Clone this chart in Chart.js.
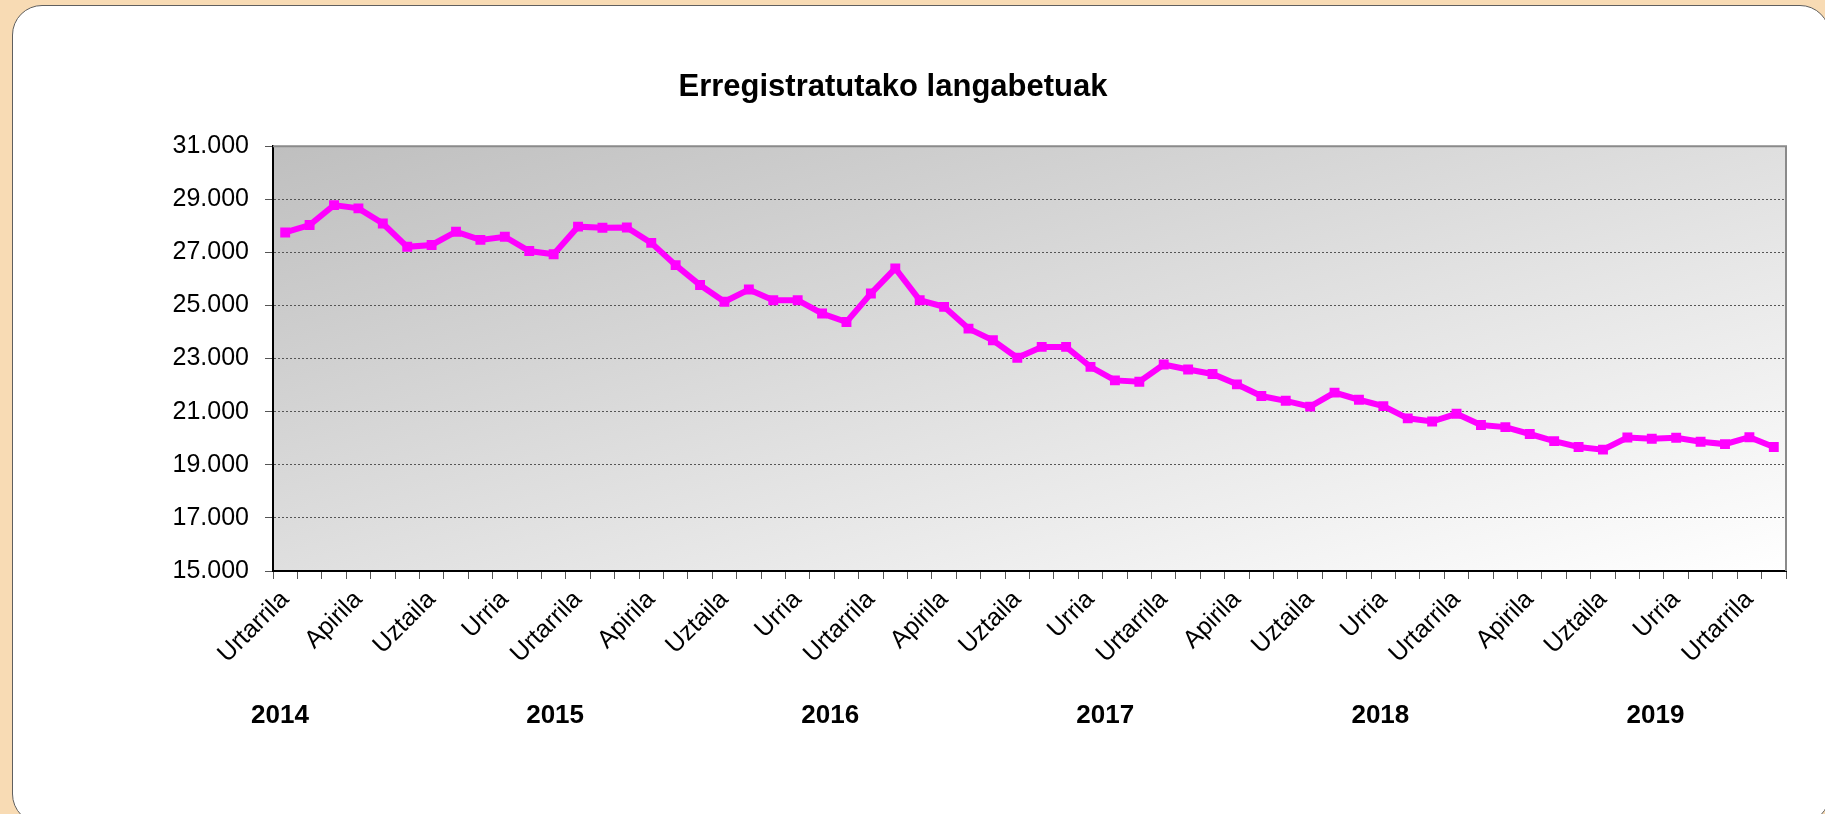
<!DOCTYPE html>
<html lang="eu">
<head>
<meta charset="utf-8">
<title>Erregistratutako langabetuak</title>
<script src="https://cdn.jsdelivr.net/npm/chart.js@4.4.1/dist/chart.umd.min.js"></script>
<style>
    html, body { margin: 0; padding: 0; }
    body {
        width: 1825px; height: 814px; overflow: hidden; position: relative;
        background: #f8dbb4;
        font-family: "Liberation Sans", Arial, sans-serif;
    }
    .card {
        position: absolute; left: 12px; top: 5px; width: 1818px; height: 819px;
        box-sizing: border-box; background: #fff;
        border: 1px solid #5f5f5f; border-radius: 30px;
    }
    .wrap { position: absolute; left: 0; top: 0; width: 1825px; height: 814px; }
</style>
</head>
<body>
<div class="card"></div>
<div class="wrap"><canvas id="chart"></canvas></div>
<script>
// Basque month names, one label per monthly point
const MONTHS = ['Urtarrila', 'Otsaila', 'Martxoa', 'Apirila', 'Maiatza', 'Ekaina',
                'Uztaila', 'Abuztua', 'Iraila', 'Urria', 'Azaroa', 'Abendua'];
const YEARS = ['2014', '2015', '2016', '2017', '2018', '2019'];
const TITLE = 'Erregistratutako langabetuak';

// Registered unemployed, Jan 2014 - Feb 2019 (62 months)
const UNEMPLOYED = [
    27750, 28030, 28780, 28660, 28090, 27210, 27280, 27780, 27470, 27590, 27050, 26930,
    27970, 27930, 27940, 27360, 26520, 25770, 25140, 25600, 25200, 25200, 24700, 24380,
    25450, 26400, 25200, 24950, 24130, 23690, 23030, 23440, 23440, 22690, 22180, 22130,
    22780, 22590, 22420, 22030, 21590, 21410, 21190, 21720, 21450, 21210, 20750, 20630,
    20920, 20500, 20420, 20160, 19890, 19670, 19570, 20030, 19980, 20020, 19870, 19780,
    20040, 19670
];

const Y_MIN = 15000;
const Y_MAX = 31000;
const Y_STEP = 2000;

(function(){
    'use strict';

    const FONT = '"Liberation Sans", Arial, sans-serif';
    Chart.defaults.font.family = FONT;

    // one category per value, month name taken from the running index
    const categories = UNEMPLOYED.map((_, i) => MONTHS[i % 12]);

    function fmtThousands(v){
        return String(v).replace(/\B(?=(\d{3})+(?!\d))/g, '.');
    }

    // gray diagonal gradient behind the plot (Excel style)
    const plotBackground = {
        id: 'plotBackground',
        beforeDraw(chart){
            const a = chart.chartArea;
            const ctx = chart.ctx;
            ctx.save();
            ctx.translate(a.left, a.top);
            ctx.scale(a.right - a.left, a.bottom - a.top);
            const g = ctx.createLinearGradient(0, 0, 1, 1);
            g.addColorStop(0, '#bfbfbf');
            g.addColorStop(1, '#ffffff');
            ctx.fillStyle = g;
            ctx.fillRect(0, 0, 1, 1);
            ctx.restore();
        }
    };

    // gray frame on top/right and the year captions under the month labels
    const extras = {
        id: 'extras',
        afterDraw(chart){
            const a = chart.chartArea;
            const ctx = chart.ctx;
            ctx.save();
            ctx.strokeStyle = '#8a8a8a';
            ctx.lineWidth = 2;
            ctx.beginPath();
            ctx.moveTo(a.left, a.top);
            ctx.lineTo(a.right, a.top);
            ctx.lineTo(a.right, a.bottom);
            ctx.stroke();

            ctx.fillStyle = '#000';
            ctx.font = 'bold 26px ' + FONT;
            ctx.textAlign = 'center';
            ctx.textBaseline = 'middle';
            const step = (a.right - a.left) / 5.5;
            YEARS.forEach((y, k) => {
                ctx.fillText(y, a.left + 7 + k * step, a.bottom + 145);
            });
            ctx.restore();
        }
    };

    new Chart(document.getElementById('chart').getContext('2d'), {
        type: 'line',
        data: {
            labels: categories,
            datasets: [{
                label: TITLE,
                data: UNEMPLOYED,
                borderColor: '#ff00ff',
                backgroundColor: '#ff00ff',
                borderWidth: 6,
                tension: 0,
                pointStyle: 'rect',
                pointRadius: 7,
                pointBorderWidth: 0,
                pointBackgroundColor: '#ff00ff'
            }]
        },
        options: {
            responsive: true,
            maintainAspectRatio: false,
            animation: false,
            layout: { padding: { left: 0, right: 39, top: 0, bottom: 0 } },
            plugins: {
                legend: { display: false },
                tooltip: { enabled: false },
                title: {
                    display: true,
                    text: TITLE,
                    color: '#000',
                    font: { size: 31, weight: 'bold' },
                    padding: { top: 69, bottom: 40 }
                }
            },
            scales: {
                x: {
                    offset: true,
                    grid: {
                        offset: true,
                        drawOnChartArea: false,
                        drawTicks: true,
                        tickLength: 8,
                        tickColor: '#555'
                    },
                    border: { color: '#000', width: 2 },
                    ticks: {
                        autoSkip: false,
                        minRotation: 45,
                        maxRotation: 45,
                        padding: 6,
                        color: '#000',
                        font: { size: 25 },
                        callback: function(v, i){
                            return i % 3 === 0 ? this.getLabelForValue(v) : '';
                        }
                    },
                    afterFit(s){ s.height = 243; }
                },
                y: {
                    min: Y_MIN,
                    max: Y_MAX,
                    grid: {
                        color: '#555',
                        lineWidth: 1,
                        tickLength: 8,
                        tickColor: '#555'
                    },
                    border: { color: '#000', width: 2, dash: [2, 2] },
                    ticks: {
                        stepSize: Y_STEP,
                        padding: 16,
                        color: '#000',
                        font: { size: 25 },
                        callback: v => fmtThousands(v)
                    },
                    afterFit(s){ s.width = 273; }
                }
            }
        },
        plugins: [plotBackground, extras]
    });
})();
</script>
</body>
</html>
